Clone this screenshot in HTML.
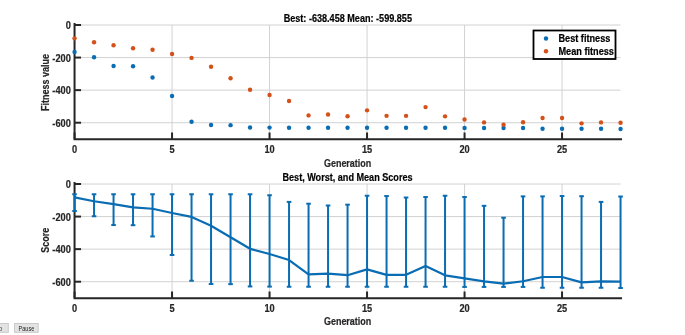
<!DOCTYPE html>
<html><head><meta charset="utf-8"><style>
html,body{margin:0;padding:0;background:#fff;}
body{width:685px;height:335px;overflow:hidden;position:relative;font-family:"Liberation Sans",sans-serif;}
svg{position:absolute;left:0;top:0;filter:blur(0.5px);}
text{font-family:"Liberation Sans",sans-serif;stroke-width:0.2px;}
.tk,.lb{stroke:#262626;} .ti,.lg{stroke:#000;}
.tk{font-size:10.5px;font-weight:bold;fill:#262626;}
.lb{font-size:10.5px;font-weight:bold;fill:#262626;}
.ti{font-size:10.5px;font-weight:bold;fill:#000;}
.lg{font-size:10.5px;font-weight:bold;fill:#000;}
.bt{font-size:6.5px;fill:#1a1a1a;}
</style></head><body>
<svg width="685" height="335" viewBox="0 0 685 335">
<line x1="172.05" y1="25" x2="172.05" y2="139" stroke="#d2d2d2" stroke-width="1"/>
<line x1="269.55" y1="25" x2="269.55" y2="139" stroke="#d2d2d2" stroke-width="1"/>
<line x1="367.05" y1="25" x2="367.05" y2="139" stroke="#d2d2d2" stroke-width="1"/>
<line x1="464.55" y1="25" x2="464.55" y2="139" stroke="#d2d2d2" stroke-width="1"/>
<line x1="562.05" y1="25" x2="562.05" y2="139" stroke="#d2d2d2" stroke-width="1"/>
<line x1="74.55" y1="25.00" x2="620.55" y2="25.00" stroke="#d2d2d2" stroke-width="1"/>
<line x1="74.55" y1="57.57" x2="620.55" y2="57.57" stroke="#d2d2d2" stroke-width="1"/>
<line x1="74.55" y1="90.14" x2="620.55" y2="90.14" stroke="#d2d2d2" stroke-width="1"/>
<line x1="74.55" y1="122.71" x2="620.55" y2="122.71" stroke="#d2d2d2" stroke-width="1"/>
<path d="M74.55 24.0 L74.55 139.3 L621.05 139.3" fill="none" stroke="#262626" stroke-width="2" stroke-linejoin="miter" stroke-linecap="square"/>
<line x1="74.55" y1="139" x2="74.55" y2="132.5" stroke="#262626" stroke-width="2"/>
<line x1="172.05" y1="139" x2="172.05" y2="132.5" stroke="#262626" stroke-width="2"/>
<line x1="269.55" y1="139" x2="269.55" y2="132.5" stroke="#262626" stroke-width="2"/>
<line x1="367.05" y1="139" x2="367.05" y2="132.5" stroke="#262626" stroke-width="2"/>
<line x1="464.55" y1="139" x2="464.55" y2="132.5" stroke="#262626" stroke-width="2"/>
<line x1="562.05" y1="139" x2="562.05" y2="132.5" stroke="#262626" stroke-width="2"/>
<line x1="74.55" y1="25.00" x2="81.05" y2="25.00" stroke="#262626" stroke-width="2"/>
<line x1="74.55" y1="57.57" x2="81.05" y2="57.57" stroke="#262626" stroke-width="2"/>
<line x1="74.55" y1="90.14" x2="81.05" y2="90.14" stroke="#262626" stroke-width="2"/>
<line x1="74.55" y1="122.71" x2="81.05" y2="122.71" stroke="#262626" stroke-width="2"/>
<text transform="translate(74.55 153.30) scale(0.88 1)" class="tk" text-anchor="middle">0</text>
<text transform="translate(172.05 153.30) scale(0.88 1)" class="tk" text-anchor="middle">5</text>
<text transform="translate(269.55 153.30) scale(0.88 1)" class="tk" text-anchor="middle">10</text>
<text transform="translate(367.05 153.30) scale(0.88 1)" class="tk" text-anchor="middle">15</text>
<text transform="translate(464.55 153.30) scale(0.88 1)" class="tk" text-anchor="middle">20</text>
<text transform="translate(562.05 153.30) scale(0.88 1)" class="tk" text-anchor="middle">25</text>
<text transform="translate(70.80 29.20) scale(0.88 1)" class="tk" text-anchor="end">0</text>
<text transform="translate(70.80 61.77) scale(0.88 1)" class="tk" text-anchor="end">-200</text>
<text transform="translate(70.80 94.34) scale(0.88 1)" class="tk" text-anchor="end">-400</text>
<text transform="translate(70.80 126.91) scale(0.88 1)" class="tk" text-anchor="end">-600</text>
<circle cx="74.55" cy="52.03" r="2.2" fill="#0a6cb2"/>
<circle cx="74.55" cy="38.35" r="2.2" fill="#d4511a"/>
<circle cx="94.05" cy="57.25" r="2.2" fill="#0a6cb2"/>
<circle cx="94.05" cy="42.26" r="2.2" fill="#d4511a"/>
<circle cx="113.55" cy="66.04" r="2.2" fill="#0a6cb2"/>
<circle cx="113.55" cy="45.19" r="2.2" fill="#d4511a"/>
<circle cx="133.05" cy="66.20" r="2.2" fill="#0a6cb2"/>
<circle cx="133.05" cy="48.29" r="2.2" fill="#d4511a"/>
<circle cx="152.55" cy="77.44" r="2.2" fill="#0a6cb2"/>
<circle cx="152.55" cy="49.75" r="2.2" fill="#d4511a"/>
<circle cx="172.05" cy="96.01" r="2.2" fill="#0a6cb2"/>
<circle cx="172.05" cy="53.99" r="2.2" fill="#d4511a"/>
<circle cx="191.55" cy="121.74" r="2.2" fill="#0a6cb2"/>
<circle cx="191.55" cy="57.90" r="2.2" fill="#d4511a"/>
<circle cx="211.05" cy="124.99" r="2.2" fill="#0a6cb2"/>
<circle cx="211.05" cy="66.69" r="2.2" fill="#d4511a"/>
<circle cx="230.55" cy="125.16" r="2.2" fill="#0a6cb2"/>
<circle cx="230.55" cy="78.25" r="2.2" fill="#d4511a"/>
<circle cx="250.05" cy="127.44" r="2.2" fill="#0a6cb2"/>
<circle cx="250.05" cy="89.82" r="2.2" fill="#d4511a"/>
<circle cx="269.55" cy="127.60" r="2.2" fill="#0a6cb2"/>
<circle cx="269.55" cy="95.03" r="2.2" fill="#d4511a"/>
<circle cx="289.05" cy="127.76" r="2.2" fill="#0a6cb2"/>
<circle cx="289.05" cy="101.05" r="2.2" fill="#d4511a"/>
<circle cx="308.55" cy="127.76" r="2.2" fill="#0a6cb2"/>
<circle cx="308.55" cy="115.39" r="2.2" fill="#d4511a"/>
<circle cx="328.05" cy="127.76" r="2.2" fill="#0a6cb2"/>
<circle cx="328.05" cy="114.57" r="2.2" fill="#d4511a"/>
<circle cx="347.55" cy="127.76" r="2.2" fill="#0a6cb2"/>
<circle cx="347.55" cy="116.20" r="2.2" fill="#d4511a"/>
<circle cx="367.05" cy="127.76" r="2.2" fill="#0a6cb2"/>
<circle cx="367.05" cy="110.34" r="2.2" fill="#d4511a"/>
<circle cx="386.55" cy="127.76" r="2.2" fill="#0a6cb2"/>
<circle cx="386.55" cy="115.87" r="2.2" fill="#d4511a"/>
<circle cx="406.05" cy="127.76" r="2.2" fill="#0a6cb2"/>
<circle cx="406.05" cy="115.87" r="2.2" fill="#d4511a"/>
<circle cx="425.55" cy="127.76" r="2.2" fill="#0a6cb2"/>
<circle cx="425.55" cy="107.08" r="2.2" fill="#d4511a"/>
<circle cx="445.05" cy="127.76" r="2.2" fill="#0a6cb2"/>
<circle cx="445.05" cy="116.36" r="2.2" fill="#d4511a"/>
<circle cx="464.55" cy="127.93" r="2.2" fill="#0a6cb2"/>
<circle cx="464.55" cy="119.46" r="2.2" fill="#d4511a"/>
<circle cx="484.05" cy="127.93" r="2.2" fill="#0a6cb2"/>
<circle cx="484.05" cy="122.39" r="2.2" fill="#d4511a"/>
<circle cx="503.55" cy="127.93" r="2.2" fill="#0a6cb2"/>
<circle cx="503.55" cy="124.67" r="2.2" fill="#d4511a"/>
<circle cx="523.05" cy="127.93" r="2.2" fill="#0a6cb2"/>
<circle cx="523.05" cy="122.23" r="2.2" fill="#d4511a"/>
<circle cx="542.55" cy="128.74" r="2.2" fill="#0a6cb2"/>
<circle cx="542.55" cy="117.99" r="2.2" fill="#d4511a"/>
<circle cx="562.05" cy="128.74" r="2.2" fill="#0a6cb2"/>
<circle cx="562.05" cy="117.99" r="2.2" fill="#d4511a"/>
<circle cx="581.55" cy="128.74" r="2.2" fill="#0a6cb2"/>
<circle cx="581.55" cy="123.37" r="2.2" fill="#d4511a"/>
<circle cx="601.05" cy="128.74" r="2.2" fill="#0a6cb2"/>
<circle cx="601.05" cy="122.39" r="2.2" fill="#d4511a"/>
<circle cx="620.55" cy="128.98" r="2.2" fill="#0a6cb2"/>
<circle cx="620.55" cy="122.69" r="2.2" fill="#d4511a"/>
<text transform="translate(347.80 22.10) scale(0.866 1)" class="ti" text-anchor="middle">Best: -638.458 Mean: -599.855</text>
<text transform="translate(347.60 166.60) scale(0.855 1)" class="lb" text-anchor="middle">Generation</text>
<text transform="translate(49.30 82.50) rotate(-90) scale(0.855 1)" class="lb" text-anchor="middle">Fitness value</text>
<rect x="533.5" y="30.5" width="82" height="28.5" fill="#fff" stroke="#000" stroke-width="1.8"/>
<circle cx="546" cy="38.5" r="2.2" fill="#0a6cb2"/>
<circle cx="546" cy="51.3" r="2.2" fill="#d4511a"/>
<text transform="translate(558.50 42.00) scale(0.872 1)" class="lg" text-anchor="start">Best fitness</text>
<text transform="translate(558.50 55.00) scale(0.872 1)" class="lg" text-anchor="start">Mean fitness</text>
<line x1="172.05" y1="184" x2="172.05" y2="298" stroke="#d2d2d2" stroke-width="1"/>
<line x1="269.55" y1="184" x2="269.55" y2="298" stroke="#d2d2d2" stroke-width="1"/>
<line x1="367.05" y1="184" x2="367.05" y2="298" stroke="#d2d2d2" stroke-width="1"/>
<line x1="464.55" y1="184" x2="464.55" y2="298" stroke="#d2d2d2" stroke-width="1"/>
<line x1="562.05" y1="184" x2="562.05" y2="298" stroke="#d2d2d2" stroke-width="1"/>
<line x1="74.55" y1="184.00" x2="620.55" y2="184.00" stroke="#d2d2d2" stroke-width="1"/>
<line x1="74.55" y1="216.57" x2="620.55" y2="216.57" stroke="#d2d2d2" stroke-width="1"/>
<line x1="74.55" y1="249.14" x2="620.55" y2="249.14" stroke="#d2d2d2" stroke-width="1"/>
<line x1="74.55" y1="281.71" x2="620.55" y2="281.71" stroke="#d2d2d2" stroke-width="1"/>
<path d="M74.55 183.0 L74.55 298.3 L621.05 298.3" fill="none" stroke="#262626" stroke-width="2" stroke-linejoin="miter" stroke-linecap="square"/>
<line x1="74.55" y1="298" x2="74.55" y2="291.5" stroke="#262626" stroke-width="2"/>
<line x1="172.05" y1="298" x2="172.05" y2="291.5" stroke="#262626" stroke-width="2"/>
<line x1="269.55" y1="298" x2="269.55" y2="291.5" stroke="#262626" stroke-width="2"/>
<line x1="367.05" y1="298" x2="367.05" y2="291.5" stroke="#262626" stroke-width="2"/>
<line x1="464.55" y1="298" x2="464.55" y2="291.5" stroke="#262626" stroke-width="2"/>
<line x1="562.05" y1="298" x2="562.05" y2="291.5" stroke="#262626" stroke-width="2"/>
<line x1="74.55" y1="184.00" x2="81.05" y2="184.00" stroke="#262626" stroke-width="2"/>
<line x1="74.55" y1="216.57" x2="81.05" y2="216.57" stroke="#262626" stroke-width="2"/>
<line x1="74.55" y1="249.14" x2="81.05" y2="249.14" stroke="#262626" stroke-width="2"/>
<line x1="74.55" y1="281.71" x2="81.05" y2="281.71" stroke="#262626" stroke-width="2"/>
<text transform="translate(74.55 312.30) scale(0.88 1)" class="tk" text-anchor="middle">0</text>
<text transform="translate(172.05 312.30) scale(0.88 1)" class="tk" text-anchor="middle">5</text>
<text transform="translate(269.55 312.30) scale(0.88 1)" class="tk" text-anchor="middle">10</text>
<text transform="translate(367.05 312.30) scale(0.88 1)" class="tk" text-anchor="middle">15</text>
<text transform="translate(464.55 312.30) scale(0.88 1)" class="tk" text-anchor="middle">20</text>
<text transform="translate(562.05 312.30) scale(0.88 1)" class="tk" text-anchor="middle">25</text>
<text transform="translate(70.80 188.20) scale(0.88 1)" class="tk" text-anchor="end">0</text>
<text transform="translate(70.80 220.77) scale(0.88 1)" class="tk" text-anchor="end">-200</text>
<text transform="translate(70.80 253.34) scale(0.88 1)" class="tk" text-anchor="end">-400</text>
<text transform="translate(70.80 285.91) scale(0.88 1)" class="tk" text-anchor="end">-600</text>
<line x1="74.55" y1="194.26" x2="74.55" y2="211.03" stroke="#0a6cb2" stroke-width="2.0"/>
<line x1="72.25" y1="194.26" x2="76.85" y2="194.26" stroke="#0a6cb2" stroke-width="2.0"/>
<line x1="72.25" y1="211.03" x2="76.85" y2="211.03" stroke="#0a6cb2" stroke-width="2.0"/>
<line x1="94.05" y1="194.26" x2="94.05" y2="216.25" stroke="#0a6cb2" stroke-width="2.0"/>
<line x1="91.75" y1="194.26" x2="96.35" y2="194.26" stroke="#0a6cb2" stroke-width="2.0"/>
<line x1="91.75" y1="216.25" x2="96.35" y2="216.25" stroke="#0a6cb2" stroke-width="2.0"/>
<line x1="113.55" y1="194.26" x2="113.55" y2="225.04" stroke="#0a6cb2" stroke-width="2.0"/>
<line x1="111.25" y1="194.26" x2="115.85" y2="194.26" stroke="#0a6cb2" stroke-width="2.0"/>
<line x1="111.25" y1="225.04" x2="115.85" y2="225.04" stroke="#0a6cb2" stroke-width="2.0"/>
<line x1="133.05" y1="194.26" x2="133.05" y2="225.20" stroke="#0a6cb2" stroke-width="2.0"/>
<line x1="130.75" y1="194.26" x2="135.35" y2="194.26" stroke="#0a6cb2" stroke-width="2.0"/>
<line x1="130.75" y1="225.20" x2="135.35" y2="225.20" stroke="#0a6cb2" stroke-width="2.0"/>
<line x1="152.55" y1="194.26" x2="152.55" y2="236.44" stroke="#0a6cb2" stroke-width="2.0"/>
<line x1="150.25" y1="194.26" x2="154.85" y2="194.26" stroke="#0a6cb2" stroke-width="2.0"/>
<line x1="150.25" y1="236.44" x2="154.85" y2="236.44" stroke="#0a6cb2" stroke-width="2.0"/>
<line x1="172.05" y1="194.26" x2="172.05" y2="255.01" stroke="#0a6cb2" stroke-width="2.0"/>
<line x1="169.75" y1="194.26" x2="174.35" y2="194.26" stroke="#0a6cb2" stroke-width="2.0"/>
<line x1="169.75" y1="255.01" x2="174.35" y2="255.01" stroke="#0a6cb2" stroke-width="2.0"/>
<line x1="191.55" y1="194.26" x2="191.55" y2="280.74" stroke="#0a6cb2" stroke-width="2.0"/>
<line x1="189.25" y1="194.26" x2="193.85" y2="194.26" stroke="#0a6cb2" stroke-width="2.0"/>
<line x1="189.25" y1="280.74" x2="193.85" y2="280.74" stroke="#0a6cb2" stroke-width="2.0"/>
<line x1="211.05" y1="194.26" x2="211.05" y2="283.99" stroke="#0a6cb2" stroke-width="2.0"/>
<line x1="208.75" y1="194.26" x2="213.35" y2="194.26" stroke="#0a6cb2" stroke-width="2.0"/>
<line x1="208.75" y1="283.99" x2="213.35" y2="283.99" stroke="#0a6cb2" stroke-width="2.0"/>
<line x1="230.55" y1="194.26" x2="230.55" y2="284.16" stroke="#0a6cb2" stroke-width="2.0"/>
<line x1="228.25" y1="194.26" x2="232.85" y2="194.26" stroke="#0a6cb2" stroke-width="2.0"/>
<line x1="228.25" y1="284.16" x2="232.85" y2="284.16" stroke="#0a6cb2" stroke-width="2.0"/>
<line x1="250.05" y1="194.26" x2="250.05" y2="286.44" stroke="#0a6cb2" stroke-width="2.0"/>
<line x1="247.75" y1="194.26" x2="252.35" y2="194.26" stroke="#0a6cb2" stroke-width="2.0"/>
<line x1="247.75" y1="286.44" x2="252.35" y2="286.44" stroke="#0a6cb2" stroke-width="2.0"/>
<line x1="269.55" y1="195.24" x2="269.55" y2="286.60" stroke="#0a6cb2" stroke-width="2.0"/>
<line x1="267.25" y1="195.24" x2="271.85" y2="195.24" stroke="#0a6cb2" stroke-width="2.0"/>
<line x1="267.25" y1="286.60" x2="271.85" y2="286.60" stroke="#0a6cb2" stroke-width="2.0"/>
<line x1="289.05" y1="201.91" x2="289.05" y2="286.76" stroke="#0a6cb2" stroke-width="2.0"/>
<line x1="286.75" y1="201.91" x2="291.35" y2="201.91" stroke="#0a6cb2" stroke-width="2.0"/>
<line x1="286.75" y1="286.76" x2="291.35" y2="286.76" stroke="#0a6cb2" stroke-width="2.0"/>
<line x1="308.55" y1="203.71" x2="308.55" y2="286.76" stroke="#0a6cb2" stroke-width="2.0"/>
<line x1="306.25" y1="203.71" x2="310.85" y2="203.71" stroke="#0a6cb2" stroke-width="2.0"/>
<line x1="306.25" y1="286.76" x2="310.85" y2="286.76" stroke="#0a6cb2" stroke-width="2.0"/>
<line x1="328.05" y1="205.50" x2="328.05" y2="286.76" stroke="#0a6cb2" stroke-width="2.0"/>
<line x1="325.75" y1="205.50" x2="330.35" y2="205.50" stroke="#0a6cb2" stroke-width="2.0"/>
<line x1="325.75" y1="286.76" x2="330.35" y2="286.76" stroke="#0a6cb2" stroke-width="2.0"/>
<line x1="347.55" y1="204.68" x2="347.55" y2="286.76" stroke="#0a6cb2" stroke-width="2.0"/>
<line x1="345.25" y1="204.68" x2="349.85" y2="204.68" stroke="#0a6cb2" stroke-width="2.0"/>
<line x1="345.25" y1="286.76" x2="349.85" y2="286.76" stroke="#0a6cb2" stroke-width="2.0"/>
<line x1="367.05" y1="195.73" x2="367.05" y2="286.76" stroke="#0a6cb2" stroke-width="2.0"/>
<line x1="364.75" y1="195.73" x2="369.35" y2="195.73" stroke="#0a6cb2" stroke-width="2.0"/>
<line x1="364.75" y1="286.76" x2="369.35" y2="286.76" stroke="#0a6cb2" stroke-width="2.0"/>
<line x1="386.55" y1="196.05" x2="386.55" y2="286.76" stroke="#0a6cb2" stroke-width="2.0"/>
<line x1="384.25" y1="196.05" x2="388.85" y2="196.05" stroke="#0a6cb2" stroke-width="2.0"/>
<line x1="384.25" y1="286.76" x2="388.85" y2="286.76" stroke="#0a6cb2" stroke-width="2.0"/>
<line x1="406.05" y1="197.52" x2="406.05" y2="286.76" stroke="#0a6cb2" stroke-width="2.0"/>
<line x1="403.75" y1="197.52" x2="408.35" y2="197.52" stroke="#0a6cb2" stroke-width="2.0"/>
<line x1="403.75" y1="286.76" x2="408.35" y2="286.76" stroke="#0a6cb2" stroke-width="2.0"/>
<line x1="425.55" y1="197.03" x2="425.55" y2="286.76" stroke="#0a6cb2" stroke-width="2.0"/>
<line x1="423.25" y1="197.03" x2="427.85" y2="197.03" stroke="#0a6cb2" stroke-width="2.0"/>
<line x1="423.25" y1="286.76" x2="427.85" y2="286.76" stroke="#0a6cb2" stroke-width="2.0"/>
<line x1="445.05" y1="195.73" x2="445.05" y2="286.76" stroke="#0a6cb2" stroke-width="2.0"/>
<line x1="442.75" y1="195.73" x2="447.35" y2="195.73" stroke="#0a6cb2" stroke-width="2.0"/>
<line x1="442.75" y1="286.76" x2="447.35" y2="286.76" stroke="#0a6cb2" stroke-width="2.0"/>
<line x1="464.55" y1="197.03" x2="464.55" y2="286.93" stroke="#0a6cb2" stroke-width="2.0"/>
<line x1="462.25" y1="197.03" x2="466.85" y2="197.03" stroke="#0a6cb2" stroke-width="2.0"/>
<line x1="462.25" y1="286.93" x2="466.85" y2="286.93" stroke="#0a6cb2" stroke-width="2.0"/>
<line x1="484.05" y1="205.82" x2="484.05" y2="286.93" stroke="#0a6cb2" stroke-width="2.0"/>
<line x1="481.75" y1="205.82" x2="486.35" y2="205.82" stroke="#0a6cb2" stroke-width="2.0"/>
<line x1="481.75" y1="286.93" x2="486.35" y2="286.93" stroke="#0a6cb2" stroke-width="2.0"/>
<line x1="503.55" y1="217.71" x2="503.55" y2="286.93" stroke="#0a6cb2" stroke-width="2.0"/>
<line x1="501.25" y1="217.71" x2="505.85" y2="217.71" stroke="#0a6cb2" stroke-width="2.0"/>
<line x1="501.25" y1="286.93" x2="505.85" y2="286.93" stroke="#0a6cb2" stroke-width="2.0"/>
<line x1="523.05" y1="196.38" x2="523.05" y2="286.93" stroke="#0a6cb2" stroke-width="2.0"/>
<line x1="520.75" y1="196.38" x2="525.35" y2="196.38" stroke="#0a6cb2" stroke-width="2.0"/>
<line x1="520.75" y1="286.93" x2="525.35" y2="286.93" stroke="#0a6cb2" stroke-width="2.0"/>
<line x1="542.55" y1="196.38" x2="542.55" y2="287.74" stroke="#0a6cb2" stroke-width="2.0"/>
<line x1="540.25" y1="196.38" x2="544.85" y2="196.38" stroke="#0a6cb2" stroke-width="2.0"/>
<line x1="540.25" y1="287.74" x2="544.85" y2="287.74" stroke="#0a6cb2" stroke-width="2.0"/>
<line x1="562.05" y1="196.05" x2="562.05" y2="287.74" stroke="#0a6cb2" stroke-width="2.0"/>
<line x1="559.75" y1="196.05" x2="564.35" y2="196.05" stroke="#0a6cb2" stroke-width="2.0"/>
<line x1="559.75" y1="287.74" x2="564.35" y2="287.74" stroke="#0a6cb2" stroke-width="2.0"/>
<line x1="581.55" y1="196.21" x2="581.55" y2="287.74" stroke="#0a6cb2" stroke-width="2.0"/>
<line x1="579.25" y1="196.21" x2="583.85" y2="196.21" stroke="#0a6cb2" stroke-width="2.0"/>
<line x1="579.25" y1="287.74" x2="583.85" y2="287.74" stroke="#0a6cb2" stroke-width="2.0"/>
<line x1="601.05" y1="201.91" x2="601.05" y2="287.74" stroke="#0a6cb2" stroke-width="2.0"/>
<line x1="598.75" y1="201.91" x2="603.35" y2="201.91" stroke="#0a6cb2" stroke-width="2.0"/>
<line x1="598.75" y1="287.74" x2="603.35" y2="287.74" stroke="#0a6cb2" stroke-width="2.0"/>
<line x1="620.55" y1="196.54" x2="620.55" y2="287.98" stroke="#0a6cb2" stroke-width="2.0"/>
<line x1="618.25" y1="196.54" x2="622.85" y2="196.54" stroke="#0a6cb2" stroke-width="2.0"/>
<line x1="618.25" y1="287.98" x2="622.85" y2="287.98" stroke="#0a6cb2" stroke-width="2.0"/>
<polyline points="74.55,197.35 94.05,201.26 113.55,204.19 133.05,207.29 152.55,208.75 172.05,212.99 191.55,216.90 211.05,225.69 230.55,237.25 250.05,248.82 269.55,254.03 289.05,260.05 308.55,274.39 328.05,273.57 347.55,275.20 367.05,269.34 386.55,274.87 406.05,274.87 425.55,266.08 445.05,275.36 464.55,278.46 484.05,281.39 503.55,283.67 523.05,281.23 542.55,276.99 562.05,276.99 581.55,282.37 601.05,281.39 620.55,281.69" fill="none" stroke="#0a6cb2" stroke-width="2.2" stroke-linejoin="round"/>
<text transform="translate(347.50 181.00) scale(0.866 1)" class="ti" text-anchor="middle">Best, Worst, and Mean Scores</text>
<text transform="translate(347.60 325.20) scale(0.855 1)" class="lb" text-anchor="middle">Generation</text>
<text transform="translate(48.80 240.30) rotate(-90) scale(0.855 1)" class="lb" text-anchor="middle">Score</text>
<rect x="-15.4" y="323.5" width="23.7" height="8.8" fill="#e3e3e3" stroke="#c9c9c9" stroke-width="1"/>
<text transform="translate(-3.50 330.70) scale(0.85 1)" class="bt" text-anchor="middle">Stop</text>
<rect x="14.5" y="323.5" width="23.7" height="8.8" fill="#e3e3e3" stroke="#c9c9c9" stroke-width="1"/>
<text transform="translate(26.40 330.70) scale(0.85 1)" class="bt" text-anchor="middle">Pause</text>
</svg>
</body></html>
